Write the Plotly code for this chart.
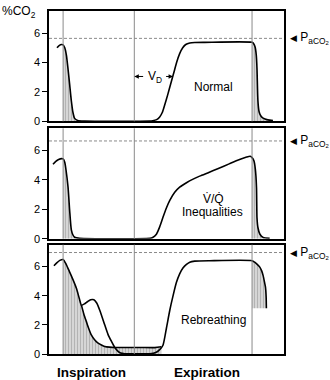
import plotly.graph_objects as go

# ---------------- data ----------------
phase_lines = [0.60, 3.63, 8.64]          # start insp., start exp., end exp. (time units)
paco2 = [5.64, 6.64, 6.96]                # arterial PCO2 level in each panel (%)
y_ticks = [0, 2, 4, 6]

normal_t = [0.34, 0.43, 0.54, 0.60, 0.67, 0.74, 0.80, 0.88, 0.95, 1.02, 1.09, 1.22, 1.52,
            4.29, 4.41, 4.58, 4.71, 4.82, 4.92, 5.05, 5.18, 5.31, 5.43, 5.56, 5.69, 5.82,
            5.99, 6.20, 6.63, 8.64, 8.71, 8.77, 8.82, 8.85, 8.89, 8.94, 9.01, 9.11, 9.31, 9.53]
normal_co2 = [5.0, 5.15, 5.22, 5.2, 5.0, 4.5, 3.7, 2.5, 1.4, 0.6, 0.2, 0.06, 0.02,
              0.02, 0.04, 0.12, 0.3, 0.6, 1.1, 1.8, 2.55, 3.3, 4.0, 4.6, 5.0, 5.22,
              5.32, 5.36, 5.37, 5.37, 5.28, 5.05, 4.5, 3.6, 1.4, 0.65, 0.38, 0.22, 0.1, 0.06]

vq_t = [0.17, 0.29, 0.41, 0.54, 0.60, 0.67, 0.73, 0.81, 0.88, 0.95, 1.02, 1.09, 1.31,
        4.29, 4.41, 4.57, 4.71, 4.85, 5.00, 5.14, 5.35, 5.56, 5.85, 6.11, 6.41, 6.80,
        7.18, 7.69, 8.11, 8.41, 8.56, 8.64, 8.72, 8.78, 8.83, 8.85, 8.89, 8.97, 9.11, 9.39]
vq_co2 = [5.06, 5.25, 5.38, 5.44, 5.42, 5.2, 4.6, 3.5, 1.9, 0.6, 0.25, 0.1, 0.03,
          0.03, 0.08, 0.3, 0.8, 1.45, 2.1, 2.6, 3.15, 3.5, 3.8, 4.03, 4.25, 4.5,
          4.75, 5.1, 5.38, 5.55, 5.6, 5.51, 5.29, 4.73, 3.48, 1.44, 0.76, 0.32, 0.09, 0.03]

reb_t = [0.21, 0.33, 0.46, 0.60, 0.73, 0.88, 1.02, 1.17, 1.29, 1.38, 1.52, 1.65, 1.77,
         1.91, 2.03, 2.16, 2.37, 2.51, 2.66, 2.80, 2.94, 3.05, 3.22, 4.29, 4.54, 4.71,
         4.85, 5.00, 5.14, 5.28, 5.42, 5.56, 5.70, 5.85, 5.99, 6.20, 6.84, 8.64, 8.75,
         8.86, 8.97, 9.05, 9.11, 9.18, 9.21, 9.24, 9.25]
reb_co2 = [6.05, 6.25, 6.42, 6.48, 6.15, 5.62, 5.1, 4.49, 3.8, 3.35, 3.45, 3.6, 3.72,
           3.72, 3.5, 3.0, 2.0, 1.35, 0.86, 0.45, 0.18, 0.06, 0.02, 0.02, 0.1, 0.3,
           0.6, 1.8, 3.0, 4.0, 4.9, 5.5, 5.9, 6.15, 6.3, 6.37, 6.4, 6.4, 6.3,
           6.15, 5.96, 5.7, 5.39, 4.85, 4.6, 3.92, 3.13]

reb_low_t = [1.38, 1.48, 1.59, 1.69, 1.80, 1.94, 2.09, 2.23, 2.37, 2.58, 2.80, 3.22, 3.86, 4.50, 4.78]
reb_low_co2 = [3.35, 2.75, 2.22, 1.75, 1.31, 0.98, 0.75, 0.62, 0.52, 0.47, 0.45, 0.45, 0.45, 0.44, 0.5]

panel_names = ["Normal", "Inequalities", "Rebreathing"]

# ---------------- figure ----------------
fig = go.Figure()
domains = [[0.6783, 1.0], [0.3362, 0.658], [0.0, 0.3188]]
HATCH = dict(shape='|', fgcolor='#8a8a8a', bgcolor='#d6d6d6', size=3, solidity=0.3)
FONT = "Arial, 'Liberation Sans', sans-serif"


def ax(i):
    return ('x', 'y') if i == 0 else ('x%d' % (i + 1), 'y%d' % (i + 1))


def seg(t, y, t0, t1):
    pts = [(a, b) for a, b in zip(t, y) if t0 - 1e-9 <= a <= t1 + 1e-9]
    return [p[0] for p in pts], [p[1] for p in pts]


def shade(i, xs, ys, base=0.0):
    xa, ya = ax(i)
    fig.add_trace(go.Scatter(
        x=[xs[0]] + xs + [xs[-1], xs[0]], y=[base] + ys + [base, base],
        mode='lines', line=dict(width=0), fill='toself', fillcolor='#d6d6d6',
        fillpattern=HATCH, xaxis=xa, yaxis=ya, hoverinfo='skip', showlegend=False))


def curve(i, t, y):
    xa, ya = ax(i)
    fig.add_trace(go.Scatter(x=t, y=y, mode='lines', line=dict(color='black', width=1.6, shape='spline', smoothing=0.6),
                             xaxis=xa, yaxis=ya, hoverinfo='skip', showlegend=False))


# Panel 1: normal
x1, y1 = seg(normal_t, normal_co2, phase_lines[0], 1.22)
shade(0, x1, y1)
x1, y1 = seg(normal_t, normal_co2, phase_lines[2], 99)
shade(0, x1, y1)
curve(0, normal_t, normal_co2)

# Panel 2: V/Q inequalities
x2, y2 = seg(vq_t, vq_co2, phase_lines[0], 1.31)
shade(1, x2, y2)
x2, y2 = seg(vq_t, vq_co2, phase_lines[2], 99)
shade(1, x2, y2)
curve(1, vq_t, vq_co2)

# Panel 3: rebreathing
xa_, ya_ = seg(reb_t, reb_co2, phase_lines[0], reb_low_t[0])
shade(2, xa_ + reb_low_t[1:], ya_ + reb_low_co2[1:])
x3, y3 = seg(reb_t, reb_co2, phase_lines[2], 99)
shade(2, x3, y3, base=reb_co2[-1])
curve(2, reb_t, reb_co2)
curve(2, reb_low_t, reb_low_co2)

shapes = []
annotations = []
for i in range(3):
    xa, ya = ax(i)
    xd = 'x domain' if i == 0 else 'x%d domain' % (i + 1)
    yd = 'y domain' if i == 0 else 'y%d domain' % (i + 1)
    for v in phase_lines:
        shapes.append(dict(type='line', xref=xa, yref=yd, x0=v, x1=v, y0=0, y1=1,
                           line=dict(color='#8a8a8a', width=1), layer='above'))
    shapes.append(dict(type='line', xref=xd, yref=ya, x0=0, x1=1, y0=paco2[i], y1=paco2[i],
                       line=dict(color='#8a8a8a', width=1, dash='3px,2px'), layer='above'))
    annotations.append(dict(xref='paper', yref=ya, x=1.017, y=paco2[i], xanchor='left', yanchor='middle',
                            text="<span style='font-size:9px'>◀</span> P<sub>aCO<sub>2</sub></sub>",
                            showarrow=False, font=dict(size=12, color='black', family=FONT)))

    key = 'xaxis' if i == 0 else 'xaxis%d' % (i + 1)
    ykey = 'yaxis' if i == 0 else 'yaxis%d' % (i + 1)
    fig.layout[key] = dict(range=[0, 10], domain=[0, 1], anchor=ya, showline=True, mirror=True,
                           linecolor='black', linewidth=1.5, showgrid=False, zeroline=False,
                           showticklabels=False, ticks='')
    fig.layout[ykey] = dict(range=[0, 7.5], domain=domains[i], anchor=xa, showline=True, mirror=True,
                            linecolor='black', linewidth=1.5, showgrid=False, zeroline=False,
                            tickvals=y_ticks, ticks='outside', ticklen=5, tickcolor='black', tickwidth=1,
                            tickfont=dict(size=11, color='black', family=FONT))

# panel texts
annotations += [
    dict(xref='x', yref='y', x=7.01, y=2.32, text=panel_names[0], showarrow=False,
         font=dict(size=12, color='black', family=FONT)),
    dict(xref='x2', yref='y2', x=6.99, y=2.71, text="V̇/Q̇", showarrow=False,
         font=dict(size=12, color='black', family=FONT)),
    dict(xref='x2', yref='y2', x=6.95, y=1.78, text=panel_names[1], showarrow=False,
         font=dict(size=12, color='black', family=FONT)),
    dict(xref='x3', yref='y3', x=7.0, y=2.33, text=panel_names[2], showarrow=False,
         font=dict(size=12, color='black', family=FONT)),
    # V_D arrows
    dict(xref='x', yref='y', x=phase_lines[1], y=3.05, ax=4.07, ay=3.05, axref='x', ayref='y',
         text='', showarrow=True, arrowhead=2, arrowsize=0.9, arrowwidth=1, arrowcolor='black'),
    dict(xref='x', yref='y', x=5.28, y=3.05, ax=4.92, ay=3.05, axref='x', ayref='y',
         text='', showarrow=True, arrowhead=2, arrowsize=0.9, arrowwidth=1, arrowcolor='black'),
    dict(xref='x', yref='y', x=4.5, y=3.0, text='V<sub>D</sub>', showarrow=False,
         font=dict(size=12, color='black', family=FONT)),
    # axis title and phase labels
    dict(xref='paper', yref='paper', x=-0.2085, y=1.025, xanchor='left', yanchor='top',
         text='%CO<sub>2</sub>', showarrow=False, font=dict(size=12, color='black', family=FONT)),
    dict(xref='paper', yref='paper', x=0.18, y=-0.054, xanchor='center', yanchor='middle',
         text='<b>Inspiration</b>', showarrow=False, font=dict(size=13.5, color='black', family=FONT)),
    dict(xref='paper', yref='paper', x=0.672, y=-0.054, xanchor='center', yanchor='middle',
         text='<b>Expiration</b>', showarrow=False, font=dict(size=13.5, color='black', family=FONT)),
]

fig.update_layout(width=330, height=380, margin=dict(l=49, r=46, t=9, b=26),
                  paper_bgcolor='white', plot_bgcolor='white', showlegend=False,
                  shapes=shapes, annotations=annotations, font=dict(family=FONT))

fig.write_html("out.html")
